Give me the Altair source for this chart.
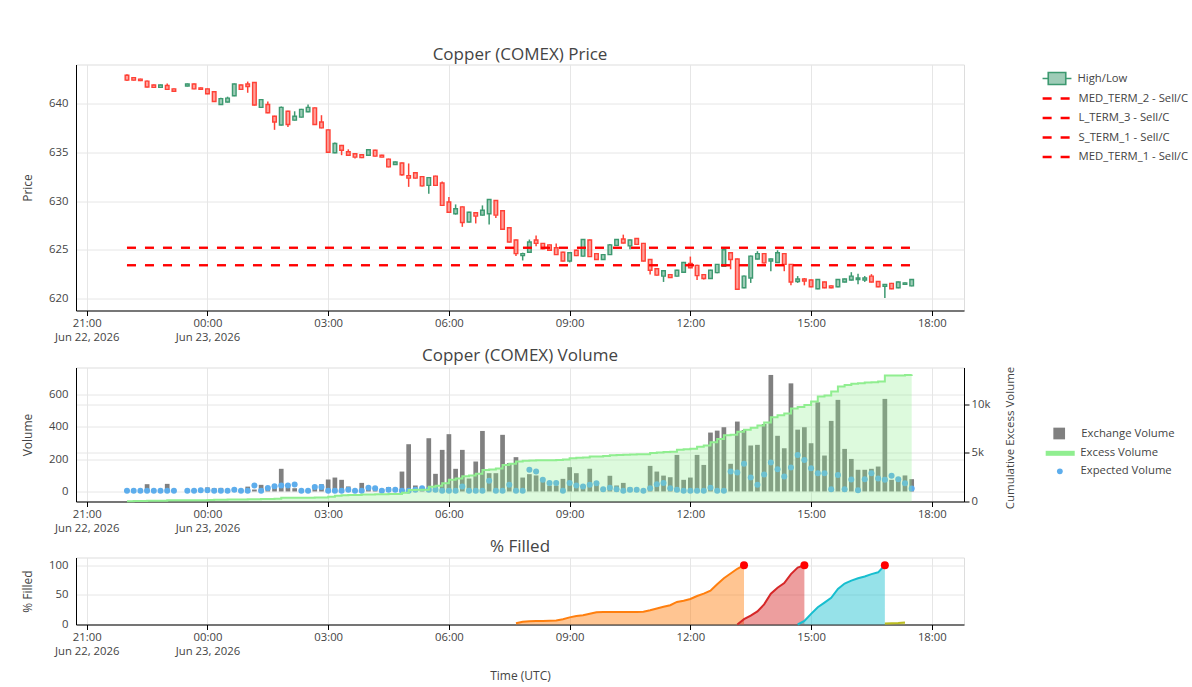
import altair as alt
import pandas as pd

FONT = "Open Sans"
TXT = "#444444"
GRID = "#E6E6E6"
GREEN = "#3D9970"
RED = "#FF4136"
LBL = 11.3

# ---------------- time grid (10-minute bars, one missing slot) ----------------
missing_slots = ["23:20"]
all_slots = pd.date_range("2026-06-22 22:00", "2026-06-23 17:30", freq="10min")
times = [t.strftime("%Y-%m-%dT%H:%M:00Z") for t in all_slots if t.strftime("%H:%M") not in missing_slots]

# ---------------- OHLC (rows = hours 22,23,00..17) ----------------
open_p = [
    642.9, 642.65, 642.5, 642.3, 641.9, 641.65,
    641.85, 641.5, 641.8, 642.0, 641.6,
    641.5, 641.2, 639.9, 640.15, 640.8, 641.9,
    642.0, 642.15, 639.6, 639.9, 638.7, 637.8,
    639.2, 638.3, 638.6, 639.15, 639.55, 638.1,
    637.3, 634.95, 635.7, 635.05, 634.85, 634.75,
    634.7, 635.2, 634.7, 634.3, 633.75, 633.9,
    632.6, 632.9, 632.5, 631.6, 632.55, 631.85,
    629.9, 628.7, 629.4, 627.85, 628.8, 628.55,
    628.7, 630.05, 629.0, 627.25, 626.0, 624.4,
    624.75, 626.0, 625.65, 625.5, 625.2, 624.75,
    623.85, 624.95, 624.35, 626.0, 624.6, 624.0,
    624.5, 625.45, 626.1, 625.4, 626.15, 625.65,
    624.0, 623.05, 622.3, 622.45, 622.3, 622.7,
    623.6, 623.4, 622.45, 622.05, 622.65, 623.3,
    624.7, 624.05, 621.1, 622.1, 624.05, 624.6,
    623.85, 623.7, 624.6, 623.5, 621.75, 622.0,
    621.9, 621.0, 621.7, 621.3, 621.2, 621.7,
    621.9, 621.95, 621.9, 622.3, 621.75, 621.25,
    621.55, 621.1, 621.45, 621.3,
]
close_p = [
    642.4, 642.4, 642.35, 641.7, 641.65, 641.9,
    641.45, 641.25, 642.0, 641.5, 641.45,
    641.0, 640.2, 640.5, 640.55, 642.0, 641.45,
    641.75, 639.85, 640.4, 639.05, 638.1, 639.6,
    637.85, 638.7, 639.4, 639.6, 637.85, 637.5,
    635.0, 635.9, 635.2, 634.7, 634.5, 634.45,
    635.25, 634.6, 634.5, 633.5, 634.0, 632.7,
    632.35, 632.35, 631.55, 632.4, 631.6, 629.55,
    628.85, 629.2, 627.8, 628.85, 628.45, 629.05,
    630.15, 628.55, 627.1, 625.8, 624.6, 624.6,
    625.8, 625.65, 625.1, 624.95, 624.5, 623.85,
    624.7, 624.4, 626.05, 624.3, 624.0, 624.5,
    625.5, 626.05, 625.7, 626.0, 625.55, 623.85,
    622.9, 622.4, 622.85, 622.15, 622.9, 623.7,
    623.15, 622.35, 622.05, 622.9, 623.5, 625.0,
    624.0, 620.95, 622.3, 624.35, 624.6, 623.65,
    624.05, 624.7, 623.5, 621.7, 622.0, 621.8,
    621.2, 621.95, 621.1, 621.1, 621.95, 622.0,
    622.3, 622.1, 622.1, 621.7, 621.2, 621.45,
    621.0, 621.7, 621.6, 621.95,
]
high_p = [
    643.0, 642.7, 642.55, 642.35, 641.95, 641.95,
    642.05, 641.55, 642.05, 642.05, 641.65,
    641.55, 641.25, 640.6, 640.7, 642.05, 641.95,
    642.25, 642.2, 640.45, 640.2, 638.75, 639.7,
    639.25, 639.2, 639.45, 639.9, 639.6, 638.8,
    637.35, 636.0, 635.75, 635.3, 634.9, 634.8,
    635.3, 635.25, 634.75, 634.35, 634.05, 633.95,
    633.85, 632.95, 632.55, 632.45, 632.6, 632.0,
    630.4, 629.65, 629.45, 628.9, 628.85, 629.55,
    630.2, 630.1, 629.05, 627.3, 626.05, 624.7,
    626.05, 626.45, 625.7, 625.55, 625.65, 624.8,
    624.75, 625.0, 626.1, 626.05, 624.65, 624.55,
    625.6, 626.1, 626.55, 626.05, 626.2, 625.7,
    624.05, 623.1, 622.9, 622.5, 622.95, 623.75,
    624.3, 623.45, 622.5, 622.95, 623.55, 625.2,
    624.75, 624.1, 622.35, 624.4, 624.85, 624.65,
    624.1, 624.95, 624.65, 623.55, 622.3, 622.1,
    621.95, 622.0, 621.75, 621.35, 622.0, 622.05,
    622.7, 622.55, 622.3, 622.5, 621.8, 621.5,
    621.6, 621.75, 621.65, 622.0,
]
low_p = [
    642.3, 642.35, 642.3, 641.65, 641.6, 641.6,
    641.4, 641.2, 641.75, 641.45, 641.4,
    640.95, 640.15, 639.85, 640.1, 640.75, 641.4,
    641.1, 639.8, 639.55, 639.0, 637.3, 637.75,
    637.6, 638.25, 638.55, 639.1, 637.8, 637.45,
    634.95, 634.9, 634.7, 634.65, 634.35, 634.4,
    634.65, 634.55, 634.45, 633.45, 633.7, 632.6,
    631.45, 632.3, 631.5, 630.75, 631.55, 629.5,
    628.8, 628.6, 627.35, 627.8, 627.7, 628.5,
    627.6, 628.25, 627.05, 625.75, 624.35, 623.9,
    624.7, 625.35, 625.05, 624.9, 624.45, 623.8,
    623.7, 624.35, 624.3, 624.25, 623.95, 623.95,
    624.45, 625.4, 625.65, 625.05, 625.5, 623.8,
    622.45, 622.35, 621.7, 622.1, 622.25, 622.65,
    623.1, 621.9, 621.95, 622.0, 622.6, 623.25,
    623.0, 620.9, 621.05, 621.6, 624.0, 623.6,
    622.8, 623.65, 622.8, 621.35, 621.6, 621.35,
    621.15, 620.95, 621.05, 621.05, 621.15, 621.65,
    621.85, 621.45, 621.7, 621.65, 621.15, 620.05,
    620.95, 621.05, 621.4, 621.25,
]

# ---------------- Volume panel ----------------
exchange_volume = [
    8, 5, 6, 45, 10, 6,
    47, 8, 5, 8, 12,
    25, 20, 22, 10, 20, 10,
    30, 12, 41, 18, 41, 140,
    25, 20, 6, 5, 37, 45,
    74, 86, 72, 31, 10, 53,
    31, 18, 14, 27, 10, 123,
    292, 37, 20, 329, 109, 257,
    354, 140, 257, 80, 185, 374,
    113, 113, 350, 175, 212, 86,
    107, 99, 62, 37, 37, 78,
    150, 113, 37, 140, 40, 20,
    97, 37, 53, 25, 15, 10,
    158, 123, 98, 88, 226, 72,
    86, 226, 164, 364, 376, 397,
    171, 432, 380, 284, 288, 417,
    720, 344, 267, 668, 382, 397,
    298, 551, 222, 436, 566, 263,
    201, 134, 134, 140, 154, 572,
    72, 82, 99, 76,
]
expected_volume = [
    5, 5, 5, 5, 5, 5,
    5, 5, 5, 5, 8,
    8, 5, 5, 5, 10, 5,
    5, 37, 5, 22, 33, 37,
    37, 43, 5, 5, 27, 27,
    5, 5, 5, 10, 5, 5,
    23, 20, 4, 10, 10, 4,
    5, 10, 20, 10, 10, 5,
    5, 5, 31, 5, 5, 5,
    66, 5, 5, 41, 5, 5,
    134, 123, 72, 53, 53, 5,
    53, 37, 31, 41, 51, 14,
    23, 14, 5, 10, 10, 5,
    20, 45, 52, 20, 10, 5,
    5, 5, 5, 23, 5, 5,
    123, 117, 171, 86, 41, 105,
    179, 138, 92, 148, 226, 195,
    144, 113, 113, 14, 101, 14,
    74, 8, 76, 113, 80, 72,
    97, 76, 51, 19,
]
excess_cumulative = [
    30, 40, 40, 80, 85, 90,
    130, 130, 135, 140, 140,
    160, 175, 190, 195, 210, 215,
    240, 240, 270, 270, 280, 380,
    390, 390, 395, 395, 405, 425,
    495, 580, 650, 670, 675, 720,
    725, 750, 760, 780, 785, 900,
    1180, 1200, 1205, 1530, 1630, 1880,
    2230, 2370, 2600, 2680, 2870, 3250,
    3300, 3410, 3760, 3900, 4120, 4210,
    4230, 4240, 4250, 4260, 4270, 4340,
    4450, 4520, 4530, 4630, 4640, 4700,
    4770, 4790, 4830, 4840, 4870, 4880,
    4990, 5060, 5100, 5140, 5340, 5380,
    5430, 5640, 5770, 6100, 6450, 6820,
    6880, 7200, 7400, 7600, 7840, 8150,
    8690, 8900, 9070, 9590, 9750, 9950,
    10310, 10830, 10940, 11340, 11860, 12020,
    12150, 12200, 12260, 12290, 12370, 12990,
    12990, 13000, 13050, 13100,
]

# ---------------- % Filled panel ----------------
fill_names = ["Order 1", "Order 2", "Order 3", "Order 4"]
fill_colors = ["#FF7F0E", "#D62728", "#17BECF", "#BCBD22"]
fill_starts = ["2026-06-23 07:40", "2026-06-23 13:10", "2026-06-23 14:40", "2026-06-23 16:50"]
fill_values = [
    [2, 4.5, 5.5, 5.8, 6, 6.3, 6.8, 9, 12, 14.5, 15.5, 18, 20.5, 21, 21, 21, 21, 21, 21,
     21.5, 24, 27, 30, 32.5, 38, 40, 43, 48, 52, 57, 68, 78, 86, 94, 100],
    [0, 9, 15, 22, 34, 52, 62, 70, 85, 96, 100],
    [0, 6, 18, 29, 37, 45, 60, 69, 74, 78, 81, 85, 88, 100],
    [1.5, 2, 2.5, 3.5],
]
completed = [True, True, True, False]

# ---------------- Sell levels ----------------
level_names = ["MED_TERM_2 - Sell/C", "L_TERM_3 - Sell/C", "S_TERM_1 - Sell/C", "MED_TERM_1 - Sell/C"]
level_values = [625.2, 623.4, 625.2, 623.4]
level_start = "2026-06-22T22:00:00Z"
level_end = "2026-06-23T17:30:00Z"

# ================= build tables =================
ohlc = pd.DataFrame({"t": times, "open": open_p, "high": high_p, "low": low_p, "close": close_p})
ohlc["dir"] = ["up" if c >= o else "down" for o, c in zip(open_p, close_p)]
ohlc["bt"] = ohlc[["open", "close"]].max(axis=1)
ohlc["bb"] = ohlc[["open", "close"]].min(axis=1)
ohlc["hl"] = "High/Low"

levels = pd.DataFrame({"name": level_names, "level": level_values,
                       "t0": [level_start] * 4, "t1": [level_end] * 4})

vol = pd.DataFrame({"t": times, "vol": exchange_volume, "exp": expected_volume,
                    "excess": excess_cumulative})
vol["lab_bar"] = "Exchange Volume"
vol["lab_ex"] = "Excess Volume"
vol["lab_exp"] = "Expected Volume"

rows = []
for name, start, vals in zip(fill_names, fill_starts, fill_values):
    ts = pd.date_range(start, periods=len(vals), freq="10min")
    for t, v in zip(ts, vals):
        rows.append({"series": name, "t": t.strftime("%Y-%m-%dT%H:%M:00Z"), "pct": v})
fills = pd.DataFrame(rows)
ends = pd.DataFrame([fills[fills.series == n].iloc[-1].to_dict()
                     for n, done in zip(fill_names, completed) if done])

# ================= axes / scales =================
x_dom = [alt.DateTime(year=2026, month=6, date=22, hours=20, minutes=44, utc=True),
         alt.DateTime(year=2026, month=6, date=23, hours=18, minutes=48, utc=True)]
tick_vals = [alt.DateTime(year=2026, month=6, date=22, hours=21, utc=True)] + [
    alt.DateTime(year=2026, month=6, date=23, hours=h, utc=True) for h in (0, 3, 6, 9, 12, 15, 18)]
label_expr = ("(utcFormat(datum.value, '%H:%M') == '21:00' || utcFormat(datum.value, '%H:%M') == '00:00')"
              " ? [utcFormat(datum.value, '%H:%M'), utcFormat(datum.value, '%b %d, %Y')]"
              " : utcFormat(datum.value, '%H:%M')")
x_scale = alt.Scale(type="utc", domain=x_dom, nice=False, padding=0)


def xaxis(title=None):
    kw = dict(values=tick_vals, labelExpr=label_expr, grid=True, gridColor=GRID,
              domainColor="#000000", tickColor="#000000", tickSize=5, ticks=True,
              labelColor=TXT, labelFontSize=LBL, labelFont=FONT, labelPadding=2,
              labelLineHeight=14, labelFlush=False, labelOverlap=False, labelBound=False,
              titleFont=FONT, titleFontSize=12, titleColor=TXT, titleFontWeight="normal",
              titlePadding=14)
    kw["title"] = title
    return alt.Axis(**kw)


def yaxis(title, values, orient="left", label_expr=None):
    kw = dict(title=title, values=values, grid=True, gridColor=GRID, domainColor="#000000",
              labelColor=TXT, labelFontSize=LBL, labelFont=FONT, titleFont=FONT,
              titleFontSize=12, titleColor=TXT, titleFontWeight="normal", orient=orient,
              labelOverlap=False)
    if orient == "left":
        kw.update(ticks=False, tickSize=0, labelPadding=8, titlePadding=14)
    else:
        kw.update(ticks=True, tickSize=5, tickColor="#000000", labelPadding=2,
                  titlePadding=26, titleAngle=270, titleY=70, titleFontSize=11.5)
    if label_expr:
        kw["labelExpr"] = label_expr
    return alt.Axis(**kw)


def X(field):
    return alt.X(f"{field}:T", scale=x_scale, axis=xaxis(), title=None)


def ptitle(text, offset=3, dy=0):
    return alt.Title(text, fontSize=17, font=FONT, color=TXT, fontWeight="normal",
                     anchor="middle", frame="group", offset=offset, dy=dy)


W = 888

# ================= panel 1 : price =================
y1_scale = alt.Scale(domain=[618.77, 644.0], nice=False, zero=False)
y1_axis = yaxis("Price", [620, 625, 630, 635, 640])
dir_scale = alt.Scale(domain=["up", "down"], range=[GREEN, RED])

candle_icon = "M-1.7,0H-1.03M1.03,0H1.7M-1.03,-0.7H1.03V0.7H-1.03Z"
leg_hl = dict(orient="none", legendX=971.5, legendY=4.5, title=None, symbolType=candle_icon,
              symbolSize=289, symbolStrokeWidth=1.6, symbolFillColor="#9ECCB7",
              symbolStrokeColor=GREEN, symbolOpacity=1, labelOffset=11,
              labelFontSize=LBL, labelFont=FONT, labelColor=TXT, padding=0)

base1 = alt.Chart(ohlc)
wick_hi = base1.mark_rule(strokeWidth=1.5).encode(
    x=X("t"), y=alt.Y("bt:Q", scale=y1_scale, axis=y1_axis), y2="high:Q",
    stroke=alt.Stroke("dir:N", scale=dir_scale, legend=None))
wick_lo = base1.mark_rule(strokeWidth=1.5).encode(
    x=X("t"), y=alt.Y("low:Q", scale=y1_scale, axis=y1_axis), y2="bb:Q",
    stroke=alt.Stroke("dir:N", scale=dir_scale, legend=None))
body = base1.mark_bar(size=3.6, strokeWidth=1.4, fillOpacity=0.5).encode(
    x=X("t"), y=alt.Y("bb:Q", scale=y1_scale, axis=y1_axis), y2="bt:Q",
    fill=alt.Fill("dir:N", scale=dir_scale, legend=None),
    stroke=alt.Stroke("dir:N", scale=dir_scale, legend=None),
    opacity=alt.Opacity("hl:N", scale=alt.Scale(domain=["High/Low"], range=[1]),
                        legend=alt.Legend(**leg_hl)))

wide_line = "M-1.75,0H1.75"
leg1 = dict(orient="none", legendX=971.5, legendY=24, title=None, symbolType=wide_line,
            symbolSize=289, symbolStrokeWidth=2.5, labelOffset=11, rowPadding=3.5,
            labelFontSize=LBL, labelFont=FONT, labelColor=TXT, padding=0)
rules = alt.Chart(levels).mark_rule(strokeWidth=2).encode(
    x=X("t0"), x2="t1:T", y=alt.Y("level:Q", scale=y1_scale, axis=y1_axis),
    color=alt.Color("name:N", scale=alt.Scale(domain=level_names, range=["#FF0000"] * 4),
                    legend=alt.Legend(**leg1), sort=level_names),
    strokeDash=alt.StrokeDash("name:N", scale=alt.Scale(domain=level_names, range=[[9, 9]] * 4),
                              legend=alt.Legend(**leg1), sort=level_names))

p1 = alt.layer(wick_hi, wick_lo, body, rules).properties(
    width=W, height=246, title=ptitle("Copper (COMEX) Price", offset=1))

# ================= panel 2 : volume =================
y2_scale = alt.Scale(domain=[-62, 766], nice=False, zero=False)
y2_axis = yaxis("Volume", [0, 200, 400, 600])
yr_scale = alt.Scale(domain=[0, 13814], nice=False, zero=False)
yr_axis = yaxis("Cumulative Excess Volume", [0, 5000, 10000], orient="right",
                label_expr="datum.value == 0 ? '0' : format(datum.value / 1000, 'd') + 'k'")

base2 = alt.Chart(vol)
bars = base2.mark_bar(size=4.7).encode(
    x=X("t"), y=alt.Y("vol:Q", scale=y2_scale, axis=y2_axis),
    color=alt.Color("lab_bar:N", scale=alt.Scale(domain=["Exchange Volume"], range=["#808080"]),
                    legend=alt.Legend(orient="none", legendX=976.2, legendY=59, title=None,
                                      symbolType="square", symbolSize=137, labelOffset=15.1,
                                      labelFontSize=LBL, labelFont=FONT, labelColor=TXT, padding=0)))
dots = base2.mark_circle(size=36, opacity=1).encode(
    x=X("t"), y=alt.Y("exp:Q", scale=y2_scale, axis=y2_axis),
    fill=alt.Fill("lab_exp:N", scale=alt.Scale(domain=["Expected Volume"], range=["#5DADEC"]),
                  legend=alt.Legend(orient="none", legendX=978.2, legendY=98.2, title=None,
                                    symbolType="circle", symbolSize=33, labelOffset=15,
                                    labelFontSize=LBL, labelFont=FONT, labelColor=TXT, padding=0)))
area = base2.mark_area(interpolate="step-after", color="#90EE90", opacity=0.3).encode(
    x=X("t"), y=alt.Y("excess:Q", scale=yr_scale, axis=yr_axis))
ex_line = base2.mark_line(interpolate="step-after", strokeWidth=2).encode(
    x=X("t"), y=alt.Y("excess:Q", scale=yr_scale, axis=yr_axis),
    stroke=alt.Stroke("lab_ex:N", scale=alt.Scale(domain=["Excess Volume"], range=["#90EE90"]),
                      legend=alt.Legend(orient="none", legendX=975.7, legendY=77.3, title=None,
                                        symbolType="M-2.48,0H2.48", symbolSize=137,
                                        symbolStrokeWidth=5, labelOffset=11.6,
                                        labelFontSize=LBL, labelFont=FONT, labelColor=TXT, padding=0)))

p2 = alt.layer(alt.layer(bars, dots), alt.layer(area, ex_line)).resolve_scale(y="independent").properties(
    width=W, height=134, title=ptitle("Copper (COMEX) Volume", offset=3, dy=2))

# ================= panel 3 : % filled =================
y3_scale = alt.Scale(domain=[0, 113], nice=False, zero=False)
y3_axis = yaxis("% Filled", [0, 50, 100])
ser_scale = alt.Scale(domain=fill_names, range=fill_colors)
X3 = alt.X("t:T", scale=x_scale, axis=xaxis("Time (UTC)"))

base3 = alt.Chart(fills)
f_area = base3.mark_area(opacity=0.45).encode(
    x=X3, y=alt.Y("pct:Q", scale=y3_scale, axis=y3_axis, stack=None),
    color=alt.Color("series:N", scale=ser_scale, legend=None))
f_line = base3.mark_line(strokeWidth=2).encode(
    x=X3, y=alt.Y("pct:Q", scale=y3_scale, axis=y3_axis),
    color=alt.Color("series:N", scale=ser_scale, legend=None))
f_dots = alt.Chart(ends).mark_circle(size=64, color="#FF0000", opacity=1).encode(
    x=X3, y=alt.Y("pct:Q", scale=y3_scale, axis=y3_axis))

p3 = alt.layer(f_area, f_line, f_dots).properties(width=W, height=67, title=ptitle("% Filled", offset=1.5))

chart = alt.vconcat(p1, p2, p3, spacing=3).resolve_scale(
    color="independent", fill="independent", stroke="independent", strokeDash="independent",
    opacity="independent"
).properties(
    padding={"left": 21, "top": 44.5, "right": 0, "bottom": 3}, background="white"
).configure_view(stroke=None).configure(font=FONT)

chart.save("out.html", embed_options={"renderer": "svg", "actions": False})
